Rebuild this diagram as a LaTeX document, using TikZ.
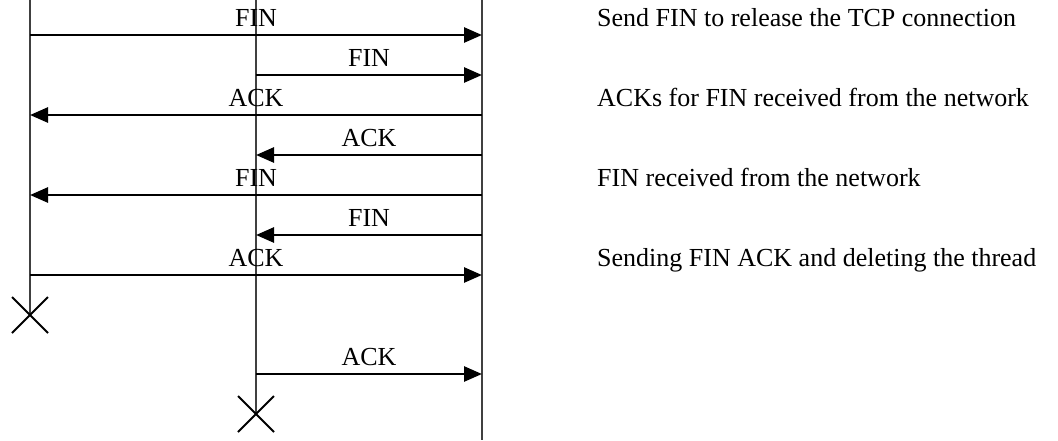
\documentclass[tikz,border=0pt]{standalone}
\usepackage{fontspec}
\setmainfont{Liberation Serif}
\usetikzlibrary{arrows.meta}
\begin{document}
\begin{tikzpicture}[x=1pt,y=-1pt,
  lifeline/.style={draw=black!75, line width=1.2pt},
  msg/.style={line width=2.6pt, -{Triangle[length=18pt,width=15pt]}},
  lbl/.style={font=\fontsize{26}{30}\selectfont, anchor=base, inner sep=0pt, yshift=9pt},
  note/.style={font=\fontsize{26}{30}\selectfont, anchor=base west, inner sep=0pt},
  kill/.style={line width=1.9pt}]
\useasboundingbox (0,0) rectangle (1058,440);
% lifelines
\coordinate (atop) at (30,0);  \coordinate (aend) at (30,315);
\coordinate (btop) at (256,0); \coordinate (bend) at (256,414);
\coordinate (ctop) at (482,0); \coordinate (cend) at (482,440);
\draw[lifeline] (atop) -- (aend);
\draw[lifeline] (btop) -- (bend);
\draw[lifeline] (ctop) -- (cend);
% message end points
\coordinate (a1) at (30,35);  \coordinate (c1) at (482,35);
\coordinate (b2) at (256,75); \coordinate (c2) at (482,75);
\coordinate (a3) at (30,115); \coordinate (c3) at (482,115);
\coordinate (b4) at (256,155); \coordinate (c4) at (482,155);
\coordinate (a5) at (30,195); \coordinate (c5) at (482,195);
\coordinate (b6) at (256,235); \coordinate (c6) at (482,235);
\coordinate (a7) at (30,275); \coordinate (c7) at (482,275);
\coordinate (b8) at (256,374); \coordinate (c8) at (482,374);
% messages
\draw[msg] (a1) -- node[lbl] (m1) {FIN} (c1);
\draw[msg] (b2) -- node[lbl] (m2) {FIN} (c2);
\draw[msg] (c3) -- node[lbl] (m3) {ACK} (a3);
\draw[msg] (c4) -- node[lbl] (m4) {ACK} (b4);
\draw[msg] (c5) -- node[lbl] (m5) {FIN} (a5);
\draw[msg] (c6) -- node[lbl] (m6) {FIN} (b6);
\draw[msg] (a7) -- node[lbl] (m7) {ACK} (c7);
\draw[msg] (b8) -- node[lbl] (m8) {ACK} (c8);
% destruction marks
\draw[kill] ([shift={(-18,-18)}]aend) -- ([shift={(18,18)}]aend)
            ([shift={(-18,18)}]aend) -- ([shift={(18,-18)}]aend);
\draw[kill] ([shift={(-18,-18)}]bend) -- ([shift={(18,18)}]bend)
            ([shift={(-18,18)}]bend) -- ([shift={(18,-18)}]bend);
% notes
\node[note] (n1) at (597,26) {Send FIN to release the TCP connection};
\node[note] (n2) at (597,106) {ACKs for FIN received from the network};
\node[note] (n3) at (597,186) {FIN received from the network};
\node[note] (n4) at (597,266) {Sending FIN ACK and deleting the thread};
\end{tikzpicture}
\end{document}
